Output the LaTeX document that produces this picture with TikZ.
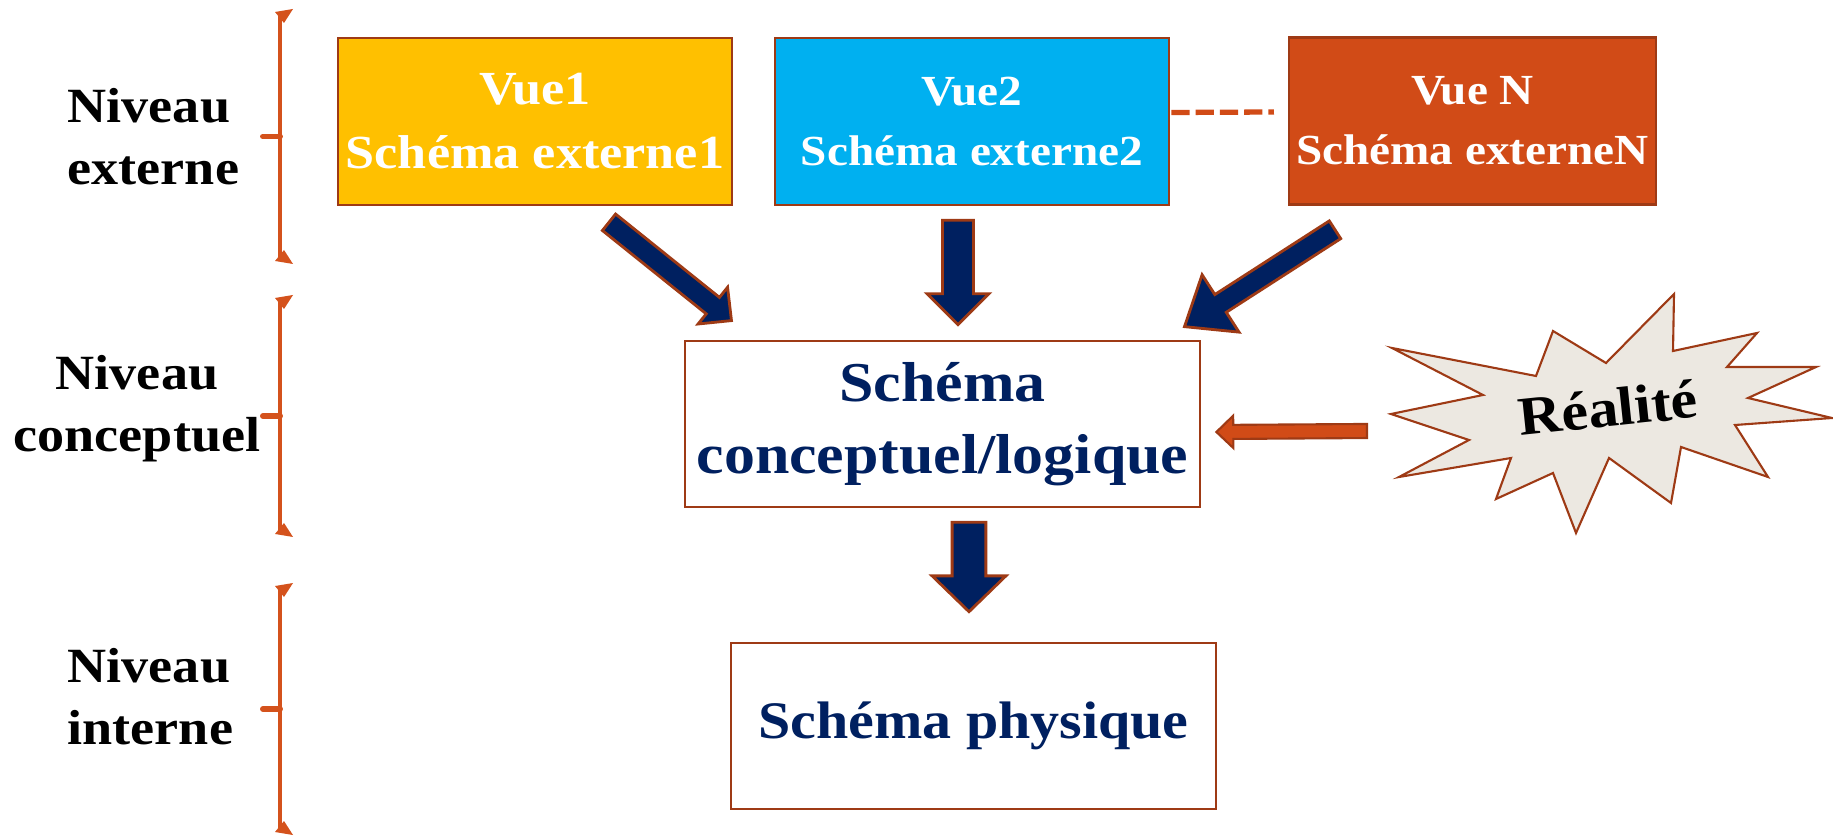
\documentclass[tikz,border=0pt]{standalone}
\usepackage{fontspec}
\setmainfont{Liberation Serif}[FakeStretch=1.1]
\usetikzlibrary{calc}
\definecolor{vueone}{HTML}{FFC000}
\definecolor{vuetwo}{HTML}{00B0F0}
\definecolor{vuen}{HTML}{D14B17}
\definecolor{edge}{HTML}{9E3A15}
\definecolor{navy}{HTML}{002060}
\definecolor{starfill}{HTML}{ECE8E1}
\definecolor{bracecol}{HTML}{D4521C}

% block arrow: [style]{from}{to}{shaft half}{head half}{head length}
\newcommand{\blockarrow}[6][darr]{%
  \draw[#1] let \p1=($(#3)-(#2)$), \n1={atan2(\y1,\x1)}, \n2={veclen(\x1,\y1)} in
    [shift={(#2)}, rotate=\n1]
    (0pt,-#4) -- ({\n2*1pt-#6},-#4) -- ({\n2*1pt-#6},-#5) -- ({\n2*1pt},0pt)
    -- ({\n2*1pt-#6},#5) -- ({\n2*1pt-#6},#4) -- (0pt,#4) -- cycle;}

% brace in front of a level: {top}{bottom}
\newcommand{\levelbrace}[2]{%
  \draw[brc] (280,#1+5) -- (280,#2-5);
  \fill[brc] (275,#1+2) -- (293,#1-1) -- (284,#1+13) -- cycle;
  \fill[brc] (275,#2-2) -- (293,#2+1) -- (284,#2-13) -- cycle;
  \draw[brc, line width=1.7pt, line cap=round] (280,{(#1+#2)/2}) -- (263,{(#1+#2)/2});}

\begin{document}
\begin{tikzpicture}[x=0.01cm, y=-0.01cm,
      vuebox/.style={draw=edge, line width=0.7pt, align=center, text=white,
                     font=\fontsize{12.2}{17}\selectfont\bfseries,
                     minimum width=3.94cm, minimum height=1.67cm, inner sep=2pt},
      schbox/.style={draw=edge, line width=0.7pt, fill=white, align=center,
                     text=navy, minimum height=1.66cm, inner sep=2pt},
      lvl/.style={align=left, inner sep=0pt,
                  font=\fontsize{14}{17.6}\selectfont\bfseries},
      darr/.style={draw=edge, fill=navy, line width=0.8pt},
      oarr/.style={draw=edge, fill=vuen, line width=0.6pt},
      brc/.style={color=bracecol, line width=1.2pt},
      dashline/.style={draw=vuen, line width=1.5pt, dash pattern=on 5.2pt off 1.7pt}
    ]
    \useasboundingbox (0,0) rectangle (1833,837);

    % ---- levels ----
    \node[lvl, anchor=west] (lvlext) at (67,137) {Niveau\\externe};
    \node[lvl, align=center] (lvlcon) at (137,409) {Niveau\\conceptuel};
    \node[lvl, anchor=west] (lvlint) at (67,697) {Niveau\\interne};
    \levelbrace{10}{263}
    \levelbrace{296}{536}
    \levelbrace{584}{834}

    % ---- external views ----
    \node[vuebox, fill=vueone, font=\fontsize{13.5}{18.2}\selectfont\bfseries]
      (vue1) at (535,121.5) {Vue1\\Schéma externe1};
    \node[vuebox, fill=vuetwo] (vue2) at (972,121.5) {Vue2\\Schéma externe2};
    \node[vuebox, fill=vuen, minimum width=3.65cm] (vueN) at (1472.5,121)
      {Vue N\\Schéma externeN};
    \draw[dashline] ($(vue2.east)+(1,-9)$) -- ($(vueN.west)+(-14,-9)$);

    % ---- conceptual / physical ----
    \node[schbox, minimum width=5.15cm, font=\fontsize{16}{20.5}\selectfont\bfseries]
      (concept) at (942.5,424) {Schéma\\conceptuel/logique};
    \node[schbox, minimum width=4.85cm, font=\fontsize{15}{18}\selectfont\bfseries]
      (phys) at (973.5,726) {Schéma physique};

    % ---- reality ----
    \draw[edge, fill=starfill, line width=0.6pt]
      (1392,348) -- (1536,376) -- (1553,331) -- (1606,363) -- (1674,294)
      -- (1673,351) -- (1757,333) -- (1727,367) -- (1816,367) -- (1748,398)
      -- (1832,418) -- (1735,425) -- (1768,477) -- (1681,447) -- (1671,503)
      -- (1609,458) -- (1576,533) -- (1553,473) -- (1496,499) -- (1511,458)
      -- (1399,477) -- (1469,440) -- (1391,414) -- (1483,395) -- cycle;
    \node[rotate=6, font=\fontsize{15.5}{19}\selectfont\bfseries] (real) at (1608,408) {Réalité};

    % ---- arrows ----
    \coordinate (a1s) at ($(vue1.south)+(74,16)$);
    \coordinate (a1e) at ($(concept.north west)+(48,-19)$);
    \coordinate (a2s) at ($(vue2.south)+(-14,14)$);
    \coordinate (a2e) at ($(concept.north)+(15.5,-15)$);
    \coordinate (a3s) at ($(vueN.south)+(-137.5,24)$);
    \coordinate (a3e) at ($(concept.north east)+(-17,-13)$);
    \coordinate (a4s) at ($(concept.south)+(26.5,14)$);
    \coordinate (a4e) at ($(phys.north)+(-4.5,-30)$);
    \coordinate (rtail) at (1367,431);
    \coordinate (rtip) at ($(concept.east)+(15,8)$);
    \blockarrow{a1s}{a1e}{3pt}{6.7pt}{6.8pt}
    \blockarrow{a2s}{a2e}{4.4pt}{8.8pt}{8.8pt}
    \blockarrow{a3s}{a3e}{3pt}{9.7pt}{12.2pt}
    \blockarrow{a4s}{a4e}{4.8pt}{10.5pt}{10.2pt}
    \blockarrow[oarr]{rtail}{rtip}{2pt}{4.6pt}{4.8pt}
  \end{tikzpicture}
\end{document}
